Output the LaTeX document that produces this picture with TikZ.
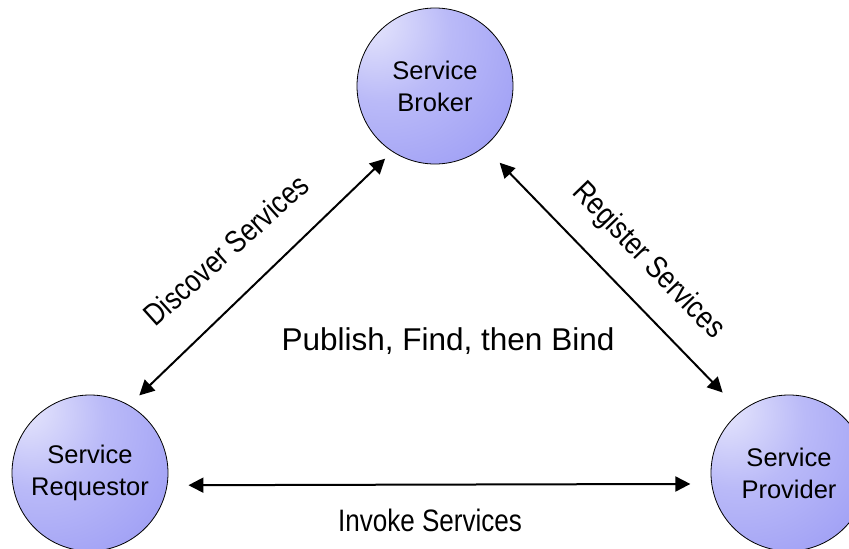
\documentclass[tikz,border=0pt]{standalone}
\usepackage{fontspec}
\setmainfont{Liberation Sans}
\newfontfamily\arialf{Liberation Sans}
\newfontfamily\narrowf[FakeStretch=0.84]{Liberation Sans}
\usetikzlibrary{arrows.meta}
\definecolor{cLight}{HTML}{E8E8FC}
\definecolor{cMidA}{HTML}{BABAF8}
\definecolor{cMid}{HTML}{9898F4}
\definecolor{cDark}{HTML}{7474EF}
\pgfdeclareradialshading{ballshade}{\pgfpoint{-22bp}{22bp}}{%
  color(0bp)=(cLight); color(22bp)=(cMidA); color(52bp)=(cMid); color(82bp)=(cDark); color(100bp)=(cDark)}
\tikzset{
  actor/.style={circle, draw=black, line width=0.8pt, minimum size=156pt, inner sep=0pt,
    shading=ballshade, align=center, font=\arialf\fontsize{25.5}{32}\selectfont},
  link/.style={{Triangle[length=15pt,width=15pt]}-{Triangle[length=15pt,width=15pt]}, line width=2pt},
  lbl/.style={font=\narrowf\fontsize{31}{36}\selectfont, inner sep=0pt},
  title/.style={font=\arialf\fontsize{31.5}{36}\selectfont, inner sep=0pt}
}
\begin{document}
\begin{tikzpicture}[x=1pt,y=-1pt]
\useasboundingbox (0,0) rectangle (849,549);
\node[actor] (broker) at (435,86) {Service\\Broker};
\node[actor] (req) at (90,473) {Service\\Requestor};
\node[actor] (prov) at (789,473) {Service\\Provider};
\draw[link, shorten <=14pt, shorten >=10pt] (req.60.6) -- (broker.237);
\draw[link, shorten <=22pt, shorten >=26pt] (broker.309) -- (prov.128);
\draw[link, shorten <=21pt, shorten >=21pt] (req.-9) -- (prov.-172);
\node[lbl, rotate=42] (disc) at (226,250) {Discover Services};
\node[lbl, rotate=-46] (reg) at (648,261) {Register Services};
\node[title] (pfb) at (448,341) {Publish, Find, then Bind};
\node[lbl] (inv) at (430,520) {Invoke Services};
\end{tikzpicture}
\end{document}
